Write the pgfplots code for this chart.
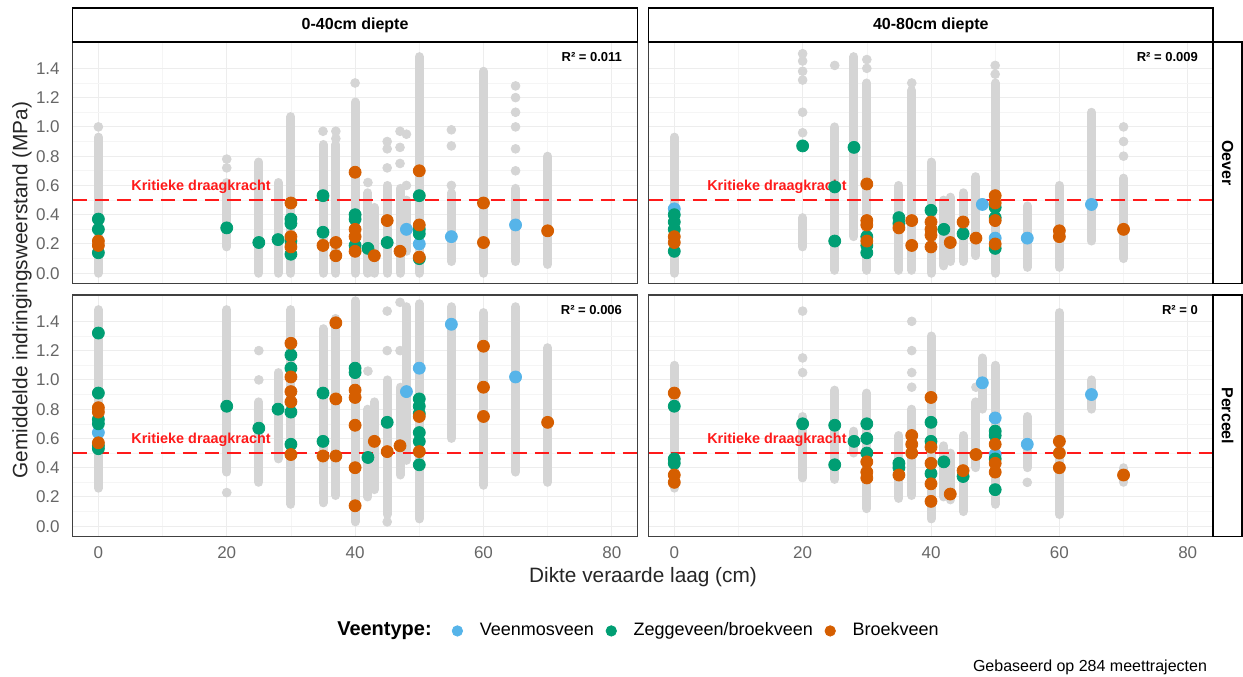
\documentclass[border=0pt]{standalone}
\usepackage{pgfplots}
\pgfplotsset{compat=1.18}
\usepackage{fontspec}
\setmainfont{Liberation Sans}
\definecolor{cblue}{HTML}{56B4E9}
\definecolor{cgreen}{HTML}{009E73}
\definecolor{corange}{HTML}{D55E00}
\definecolor{band}{HTML}{D5D5D5}
\definecolor{critred}{HTML}{FF1A1A}
\def\fsz#1{\fontsize{#1pt}{#1pt}\selectfont}
\pgfplotsset{
 panel/.style={
  scale only axis, width=282.4pt, height=120.75pt,
  xmin=-4, xmax=84, ymin=-0.07, ymax=1.58,
  xtick={0,20,40,60,80}, ytick={0,0.2,0.4,0.6,0.8,1.0,1.2,1.4},
  minor x tick num=1, minor y tick num=1,
  grid=both, major grid style={draw=black!7, line width=0.5pt}, minor grid style={draw=black!4, line width=0.3pt},
  major tick length=0pt, minor tick length=0pt,
  axis line style={draw=black!75, line width=0.7pt},
  tick label style={font=\fsz{8.5}, text=black!60},
  /pgf/number format/assume math mode=true,
  yticklabel style={/pgf/number format/fixed, /pgf/number format/fixed zerofill, /pgf/number format/precision=1, xshift=-3pt},
  xticklabel style={yshift=-1.5pt},
 },
 bandst/.style={draw=band, line width=4.5pt, line cap=round, unbounded coords=jump, mark=none},
 gdot/.style={only marks, mark=*, mark size=2.2pt, draw=band, fill=band},
 vb/.style={only marks, mark=*, mark size=3pt, draw=cblue, fill=cblue},
 vg/.style={only marks, mark=*, mark size=3pt, draw=cgreen, fill=cgreen},
 vo/.style={only marks, mark=*, mark size=3pt, draw=corange, fill=corange},
 crit/.style={draw=critred, dash pattern=on 7pt off 4pt, line width=1.4pt, mark=none},
}
\newcommand\critline{%
 \addplot[crit] coordinates {(-4,0.5) (84,0.5)};
 \node[text=critred, font=\bfseries\fsz{7.2}] at (axis cs:16,0.59) {Kritieke draagkracht};}
\begin{document}
\begin{tikzpicture}
\useasboundingbox (0,0) rectangle (621.5pt,338pt);
% ---------------- Panel A: Oever, 0-40
\begin{axis}[panel, at={(36.35pt,196.25pt)}, anchor=south west, xticklabels={}]
\addplot[bandst] coordinates {(0,0) (0,0.93) (0,nan) (20,0.18) (20,0.62) (20,nan) (25,0) (25,0.76) (25,nan) (28,0) (28,0.62) (28,nan) (30,0) (30,1.07) (30,nan) (35,0) (35,0.88) (35,nan) (37,0) (37,0.88) (37,nan) (40,0) (40,1.17) (40,nan) (42,0) (42,0.55) (42,nan) (43,0) (43,0.45) (43,nan) (45,0) (45,0.6) (45,nan) (47,0) (47,0.58) (47,nan) (48,0.15) (48,0.5) (48,nan) (50,0) (50,1.48) (50,nan) (55,0.08) (55,0.55) (55,nan) (60,0) (60,1.38) (60,nan) (65,0.08) (65,0.58) (65,nan) (70,0.06) (70,0.8)};
\addplot[gdot] coordinates {(0,1.0) (20,0.72) (20,0.78) (35,0.97) (37,0.97) (37,0.92) (40,1.3) (42,0.62) (45,0.72) (45,0.85) (45,0.9) (47,0.75) (47,0.86) (47,0.97) (48,0.6) (48,0.95) (55,0.6) (55,0.87) (55,0.98) (65,0.7) (65,0.85) (65,1.0) (65,1.1) (65,1.2) (65,1.28)};
\addplot[vb] coordinates {(48,0.30) (50,0.20) (55,0.25) (65,0.33)};
\addplot[vg] coordinates {(0,0.37) (0,0.30) (0,0.14) (20,0.31) (25,0.21) (28,0.23) (30,0.37) (30,0.34) (30,0.22) (30,0.13) (35,0.53) (35,0.28) (40,0.40) (40,0.37) (40,0.19) (42,0.17) (45,0.21) (50,0.53) (50,0.30) (50,0.27) (50,0.10)};
\addplot[vo] coordinates {(0,0.22) (0,0.19) (30,0.48) (30,0.25) (30,0.18) (35,0.19) (37,0.21) (37,0.12) (40,0.69) (40,0.30) (40,0.25) (40,0.15) (43,0.12) (45,0.36) (47,0.15) (50,0.70) (50,0.33) (50,0.11) (60,0.48) (60,0.21) (70,0.29)};
\critline
\node[anchor=north east, font=\bfseries\fsz{6.5}] at (rel axis cs:0.985,0.985) {R² = 0.011};
\end{axis}
% ---------------- Panel B: Oever, 40-80
\begin{axis}[panel, at={(324.3pt,196.25pt)}, anchor=south west, xticklabels={}, yticklabels={}]
\addplot[bandst] coordinates {(0,0) (0,0.93) (0,nan) (20,0.18) (20,0.38) (20,nan) (25,0.02) (25,1.0) (25,nan) (28,0.25) (28,1.48) (28,nan) (30,0.02) (30,1.3) (30,nan) (35,0.02) (35,0.6) (35,nan) (37,0.02) (37,1.25) (37,nan) (40,0) (40,0.76) (40,nan) (42,0.05) (42,0.5) (42,nan) (43,0.08) (43,0.52) (43,nan) (45,0.08) (45,0.55) (45,nan) (47,0.12) (47,0.66) (47,nan) (50,0) (50,1.3) (50,nan) (55,0.04) (55,0.46) (55,nan) (60,0.04) (60,0.6) (60,nan) (65,0.22) (65,1.1) (65,nan) (70,0.1) (70,0.65)};
\addplot[gdot] coordinates {(20,1.5) (20,1.45) (20,1.38) (20,1.32) (20,1.1) (20,0.96) (25,1.42) (30,1.4) (30,1.46) (37,1.3) (50,1.42) (50,1.36) (70,0.8) (70,0.9) (70,1.0)};
\addplot[vb] coordinates {(0,0.44) (48,0.47) (50,0.24) (55,0.24) (65,0.47)};
\addplot[vg] coordinates {(0,0.40) (0,0.35) (0,0.30) (0,0.15) (20,0.87) (25,0.59) (25,0.22) (28,0.86) (30,0.25) (30,0.19) (30,0.14) (35,0.38) (35,0.34) (40,0.43) (42,0.30) (45,0.27) (50,0.45) (50,0.38) (50,0.17)};
\addplot[vo] coordinates {(0,0.25) (0,0.21) (30,0.61) (30,0.36) (30,0.33) (30,0.22) (35,0.31) (37,0.36) (37,0.19) (40,0.35) (40,0.30) (40,0.26) (40,0.18) (43,0.21) (45,0.35) (47,0.24) (50,0.53) (50,0.48) (50,0.36) (50,0.20) (60,0.29) (60,0.25) (70,0.30)};
\critline
\node[anchor=north east, font=\bfseries\fsz{6.5}] at (rel axis cs:0.985,0.985) {R² = 0.009};
\end{axis}
% ---------------- Panel C: Perceel, 0-40
\begin{axis}[panel, at={(36.35pt,69.75pt)}, anchor=south west,
  legend style={at={(0.662,-0.391)}, anchor=west, draw=none, fill=none, inner sep=0pt, legend columns=-1, font=\fsz{9},
   /tikz/every even column/.append style={column sep=1.5pt}},
  legend image code/.code={\path (0pt,0pt) (14pt,0pt); \draw[#1,mark size=2.6pt] plot coordinates {(5pt,0pt)};}]
\addplot[bandst, forget plot] coordinates {(0,0.26) (0,1.48) (0,nan) (20,0.37) (20,1.48) (20,nan) (25,0.3) (25,0.85) (25,nan) (28,0.46) (28,1.05) (28,nan) (30,0.15) (30,1.48) (30,nan) (35,0.16) (35,1.35) (35,nan) (37,0.21) (37,1.42) (37,nan) (40,0.03) (40,1.54) (40,nan) (42,0.2) (42,0.8) (42,nan) (43,0.25) (43,0.85) (43,nan) (45,0.08) (45,1.0) (45,nan) (47,0.35) (47,0.95) (47,nan) (48,0.45) (48,1.5) (48,nan) (50,0.05) (50,1.52) (50,nan) (55,0.6) (55,1.5) (55,nan) (60,0.28) (60,1.46) (60,nan) (65,0.37) (65,1.5) (65,nan) (70,0.3) (70,1.22)};
\addplot[gdot, forget plot] coordinates {(20,0.23) (25,1.0) (25,1.2) (42,1.06) (45,0.03) (45,1.2) (45,1.47) (47,1.2) (47,1.53)};
\addplot[vb] coordinates {(0,0.64) (48,0.92) (50,1.08) (55,1.38) (65,1.02)};
\addlegendentry{Veenmosveen}
\addplot[vg] coordinates {(0,1.32) (0,0.91) (0,0.73) (0,0.70) (0,0.55) (0,0.53) (20,0.82) (25,0.67) (28,0.80) (30,1.17) (30,1.08) (30,0.78) (30,0.56) (35,0.91) (35,0.58) (40,1.08) (40,1.05) (42,0.47) (45,0.71) (50,0.87) (50,0.82) (50,0.77) (50,0.64) (50,0.58) (50,0.42)};
\addlegendentry{Zeggeveen/broekveen}
\addplot[vo] coordinates {(0,0.81) (0,0.78) (0,0.57) (30,1.25) (30,1.02) (30,0.92) (30,0.85) (30,0.49) (35,0.48) (37,1.39) (37,0.87) (37,0.48) (40,0.93) (40,0.88) (40,0.69) (40,0.40) (40,0.14) (43,0.58) (45,0.51) (47,0.55) (50,0.75) (50,0.51) (60,1.23) (60,0.95) (60,0.75) (70,0.71)};
\addlegendentry{Broekveen}
\addplot[crit, forget plot] coordinates {(-4,0.5) (84,0.5)};
\node[text=critred, font=\bfseries\fsz{7.2}] at (axis cs:16,0.59) {Kritieke draagkracht};
\node[anchor=north east, font=\bfseries\fsz{6.5}] at (rel axis cs:0.985,0.985) {R² = 0.006};
\end{axis}
% ---------------- Panel D: Perceel, 40-80
\begin{axis}[panel, at={(324.3pt,69.75pt)}, anchor=south west, yticklabels={}]
\addplot[bandst] coordinates {(0,0.26) (0,1.1) (0,nan) (20,0.33) (20,0.75) (20,nan) (25,0.32) (25,0.93) (25,nan) (28,0.5) (28,0.65) (28,nan) (30,0.12) (30,0.91) (30,nan) (35,0.19) (35,0.62) (35,nan) (37,0.21) (37,0.8) (37,nan) (40,0.05) (40,1.3) (40,nan) (42,0.2) (42,0.55) (42,nan) (43,0.18) (43,0.5) (43,nan) (45,0.1) (45,0.62) (45,nan) (47,0.4) (47,0.85) (47,nan) (48,0.8) (48,1.15) (48,nan) (50,0.15) (50,1.1) (50,nan) (55,0.4) (55,0.75) (55,nan) (60,0.08) (60,1.46) (60,nan) (65,0.8) (65,1.0) (65,nan) (70,0.3) (70,0.4)};
\addplot[gdot] coordinates {(20,1.47) (20,1.15) (20,1.05) (37,0.95) (37,1.05) (37,1.2) (37,1.4) (55,0.3) (47,0.95)};
\addplot[vb] coordinates {(48,0.98) (50,0.74) (50,0.49) (55,0.56) (65,0.90)};
\addplot[vg] coordinates {(0,0.82) (0,0.46) (0,0.43) (20,0.70) (25,0.69) (25,0.42) (28,0.58) (30,0.70) (30,0.60) (30,0.50) (35,0.43) (35,0.40) (40,0.71) (40,0.58) (40,0.36) (42,0.44) (45,0.34) (50,0.65) (50,0.62) (50,0.46) (50,0.25)};
\addplot[vo] coordinates {(0,0.91) (0,0.35) (0,0.30) (30,0.44) (30,0.37) (30,0.33) (35,0.35) (37,0.62) (37,0.56) (37,0.50) (40,0.88) (40,0.54) (40,0.43) (40,0.29) (40,0.17) (43,0.22) (45,0.38) (47,0.49) (50,0.56) (50,0.43) (50,0.37) (60,0.58) (60,0.50) (60,0.40) (70,0.35)};
\critline
\node[anchor=north east, font=\bfseries\fsz{6.5}] at (rel axis cs:0.985,0.985) {R² = 0};
\end{axis}
% ---------------- strips
\draw[black, line width=0.75pt, fill=white] (36.35pt,317pt) rectangle (318.75pt,334pt);
\node[font=\bfseries\fsz{8}] at (177.55pt,325.5pt) {0-40cm diepte};
\draw[black, line width=0.75pt, fill=white] (324.3pt,317pt) rectangle (606.5pt,334pt);
\node[font=\bfseries\fsz{8}] at (465.4pt,325.5pt) {40-80cm diepte};
\draw[black, line width=0.75pt, fill=white] (606.5pt,196.25pt) rectangle (621.1pt,317pt);
\node[font=\bfseries\fsz{8}, rotate=-90] at (613.8pt,256.6pt) {Oever};
\draw[black, line width=0.75pt, fill=white] (606.5pt,69.75pt) rectangle (621.1pt,190.5pt);
\node[font=\bfseries\fsz{8}, rotate=-90] at (613.8pt,130.1pt) {Perceel};
% ---------------- titles
\node[font=\fsz{10.4}, text=black!85] at (321.5pt,49.5pt) {Dikte veraarde laag (cm)};
\node[font=\fsz{10.4}, text=black!85, rotate=90] at (11pt,193pt) {Gemiddelde indringingsweerstand (MPa)};
\node[font=\bfseries\fsz{10}] at (192.25pt,22.5pt) {Veentype:};
\node[font=\fsz{8}, anchor=east] at (607pt,4.5pt) {Gebaseerd op 284 meettrajecten};
\end{tikzpicture}
\end{document}
